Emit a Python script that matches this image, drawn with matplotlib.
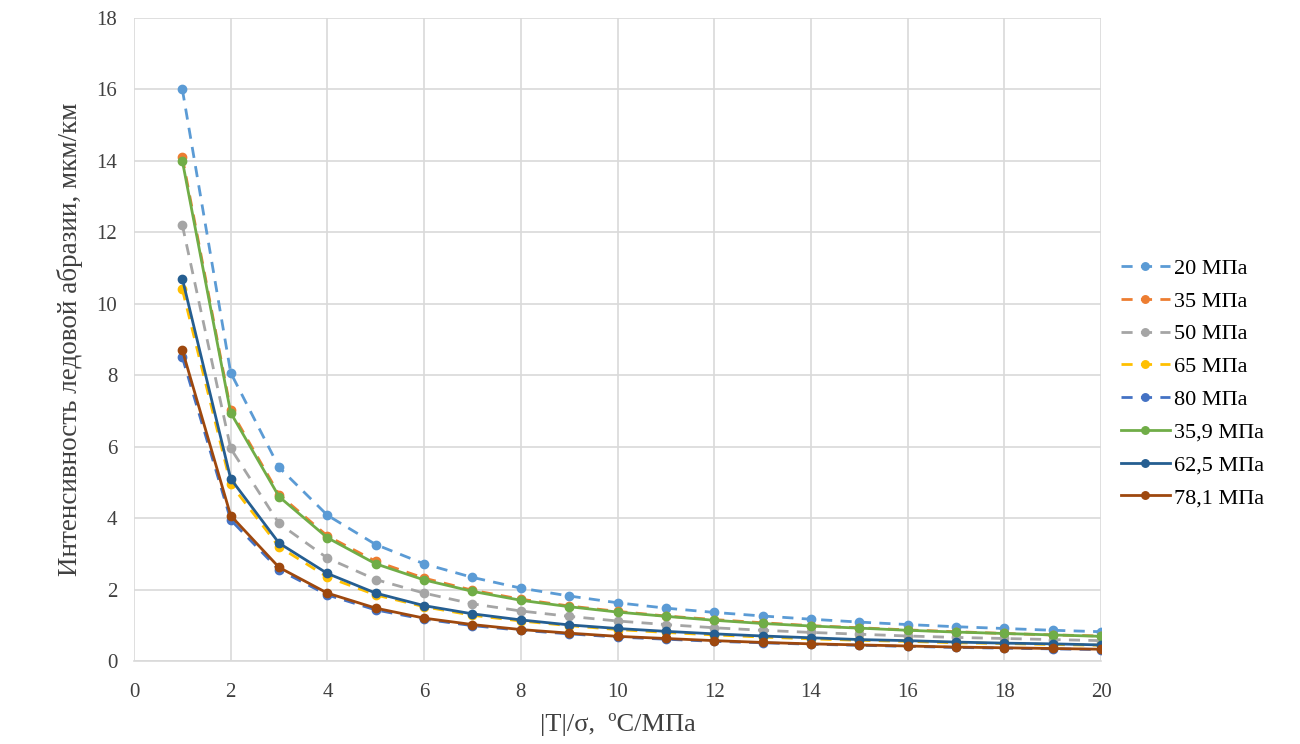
import numpy as np
import matplotlib.pyplot as plt

plt.rcParams['font.family'] = ['Liberation Serif', 'DejaVu Serif']

x = list(range(1, 21))

s20 = [16.0, 8.07, 5.42, 4.08, 3.26, 2.72, 2.34, 2.04, 1.82, 1.63, 1.48, 1.36, 1.26, 1.17, 1.09, 1.02, 0.96, 0.91, 0.86, 0.82]
s35 = [14.1, 7.02, 4.66, 3.5, 2.79, 2.32, 1.98, 1.73, 1.54, 1.39, 1.26, 1.16, 1.07, 0.99, 0.93, 0.87, 0.82, 0.77, 0.73, 0.7]
s50 = [12.2, 5.95, 3.85, 2.88, 2.28, 1.9, 1.6, 1.4, 1.25, 1.12, 1.02, 0.93, 0.86, 0.8, 0.75, 0.7, 0.66, 0.63, 0.6, 0.57]
s65 = [10.4, 4.95, 3.2, 2.35, 1.85, 1.52, 1.28, 1.12, 0.99, 0.88, 0.8, 0.73, 0.67, 0.62, 0.58, 0.55, 0.51, 0.49, 0.46, 0.44]
s80 = [8.5, 3.95, 2.55, 1.85, 1.43, 1.17, 0.99, 0.86, 0.76, 0.67, 0.61, 0.55, 0.51, 0.47, 0.44, 0.41, 0.38, 0.36, 0.34, 0.32]
s359 = [14.0, 6.95, 4.6, 3.45, 2.72, 2.27, 1.95, 1.7, 1.52, 1.37, 1.25, 1.14, 1.05, 0.98, 0.92, 0.86, 0.81, 0.77, 0.73, 0.69]
s625 = [10.7, 5.1, 3.3, 2.45, 1.9, 1.55, 1.32, 1.15, 1.01, 0.91, 0.83, 0.76, 0.7, 0.65, 0.6, 0.57, 0.53, 0.5, 0.48, 0.45]
s781 = [8.7, 4.07, 2.62, 1.9, 1.48, 1.2, 1.02, 0.88, 0.78, 0.69, 0.63, 0.57, 0.52, 0.48, 0.45, 0.42, 0.39, 0.37, 0.35, 0.33]

series = [
    ("20 МПа", s20, '#5B9BD5', '--'),
    ("35 МПа", s35, '#ED7D31', '--'),
    ("50 МПа", s50, '#A5A5A5', '--'),
    ("65 МПа", s65, '#FFC000', '--'),
    ("80 МПа", s80, '#4472C4', '--'),
    ("35,9 МПа", s359, '#70AD47', '-'),
    ("62,5 МПа", s625, '#255E91', '-'),
    ("78,1 МПа", s781, '#9E480E', '-'),
]

fig = plt.figure(figsize=(13, 7.44), dpi=100)
ax = fig.add_axes([134/1300, 1 - 661/744, (1101-134)/1300, (661-18)/744])

for label, vals, col, ls in series:
    ax.plot(x, vals, linestyle=ls, color=col, linewidth=2, marker='o', markersize=6,
            dashes=(4, 3) if ls == '--' else (None, None), label=label)

ax.set_xlim(0, 20)
ax.set_ylim(0, 18)
ax.set_xticks(range(0, 21, 2))
ax.set_yticks(range(0, 19, 2))
ax.grid(True, color='#D9D9D9', linewidth=1.2)
ax.set_axisbelow(True)
for sp in ['top', 'right', 'left']:
    ax.spines[sp].set_visible(False)
ax.spines['bottom'].set_color('#D9D9D9')
ax.spines['bottom'].set_linewidth(1.2)
ax.tick_params(axis='x', length=0, labelsize=15, pad=16, colors='#404040')
ax.tick_params(axis='y', length=0, labelsize=15, pad=12, colors='#404040')
ax.set_xlabel("|T|/σ,  ºC/МПа", fontsize=19, color='#404040', labelpad=8)
ax.set_ylabel("Интенсивность ледовой абразии, мкм/км", fontsize=19.5, color='#404040', labelpad=10)

ax.legend(loc='center left', bbox_to_anchor=(1.0, 0.432), frameon=False, fontsize=16,
          handlelength=2.2, labelspacing=0.55, handletextpad=0.2, markerscale=0.9)

fig.savefig('out.png', dpi=100)
